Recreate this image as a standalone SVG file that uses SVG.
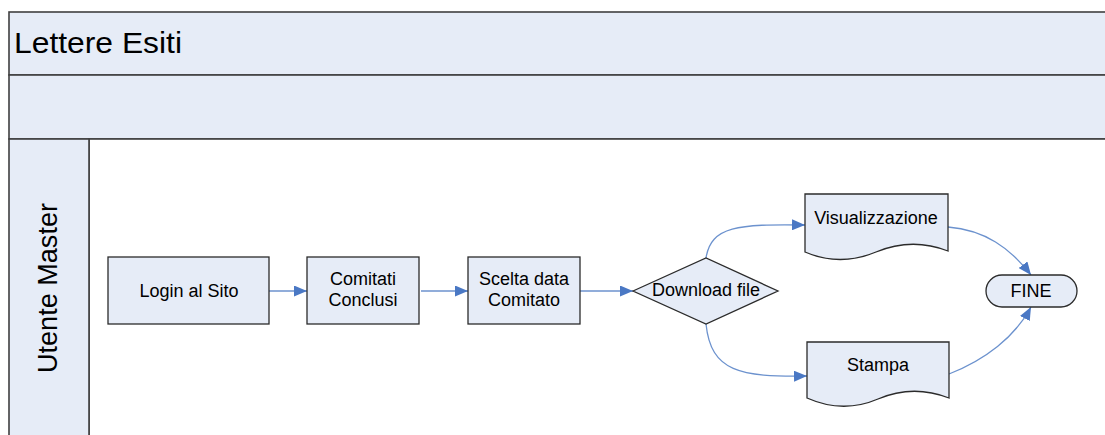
<svg xmlns="http://www.w3.org/2000/svg" width="1105" height="435" viewBox="0 0 1105 435">
<style>
.band{fill:#E6ECF7;stroke:#404040;stroke-width:1.6}
.lane{fill:#FFFFFF;stroke:#404040;stroke-width:1.6}
.shape{fill:#E6ECF7;stroke:#2B2B2B;stroke-width:1.3}
.conn{fill:none;stroke:#6C92CE;stroke-width:1.3}
.t{font-family:"Liberation Sans",Arial,sans-serif;font-size:18px;fill:#000;text-anchor:middle}
.big{font-family:"Liberation Sans",Arial,sans-serif;fill:#000}
</style>
<defs>
<marker id="arr" markerUnits="userSpaceOnUse" markerWidth="13" markerHeight="11" refX="13" refY="5.5" orient="auto">
<path d="M0,0 L13,5.5 L0,11 z" fill="#4A78C4"/>
</marker>
</defs>
<rect width="1105" height="435" fill="#FFFFFF"/>
<g id="pool">
<rect class="band" x="9" y="12" width="1110" height="63"/>
<text class="big" x="14" y="53" font-size="30" textLength="168" lengthAdjust="spacingAndGlyphs">Lettere Esiti</text>
<rect class="band" x="9" y="75" width="1110" height="64"/>
<rect class="lane" x="89" y="139" width="1030" height="310"/>
<rect class="band" x="9" y="139" width="80" height="310"/>
<text class="big" font-size="27" text-anchor="middle" transform="translate(57,288) rotate(-90)" textLength="170" lengthAdjust="spacingAndGlyphs">Utente Master</text>
</g>
<g id="connectors">
<path class="conn" d="M263,291 L307,291" marker-end="url(#arr)"/>
<path class="conn" d="M421,291 L468,291" marker-end="url(#arr)"/>
<path class="conn" d="M580,291 L633,291" marker-end="url(#arr)"/>
<path class="conn" d="M706,258 C711,226 738,224 805,225" marker-end="url(#arr)"/>
<path class="conn" d="M706,324 C711,372 740,377 807,376" marker-end="url(#arr)"/>
<path class="conn" d="M948,227 C985,230 1010,248 1031,275" marker-end="url(#arr)"/>
<path class="conn" d="M949,374 C985,360 1015,337 1031,307" marker-end="url(#arr)"/>
</g>
<g id="login">
<rect class="shape" x="108" y="257" width="161" height="67"/>
<text class="t" x="189" y="297">Login al Sito</text>
</g>
<g id="comitati">
<rect class="shape" x="307" y="257" width="112" height="67"/>
<text class="t" x="363" y="285">Comitati</text>
<text class="t" x="363" y="306">Conclusi</text>
</g>
<g id="scelta">
<rect class="shape" x="468" y="257" width="112" height="67"/>
<text class="t" x="524" y="285">Scelta data</text>
<text class="t" x="524" y="306">Comitato</text>
</g>
<g id="download">
<path class="shape" d="M633,291 L706,258 L778,291 L706,324 Z"/>
<text class="t" x="706" y="296">Download file</text>
</g>
<g id="visualizzazione">
<path class="shape" d="M805,194 L948,194 L948,251 Q912,237 876,252 T805,252 Z"/>
<text class="t" x="876" y="224">Visualizzazione</text>
</g>
<g id="stampa">
<path class="shape" d="M807,342 L949,342 L949,398 Q913,384 878,399 T807,398 Z"/>
<text class="t" x="878" y="371">Stampa</text>
</g>
<g id="fine">
<rect class="shape" x="986" y="275" width="91" height="32" rx="16" ry="16"/>
<text class="t" x="1031" y="297">FINE</text>
</g>
</svg>
